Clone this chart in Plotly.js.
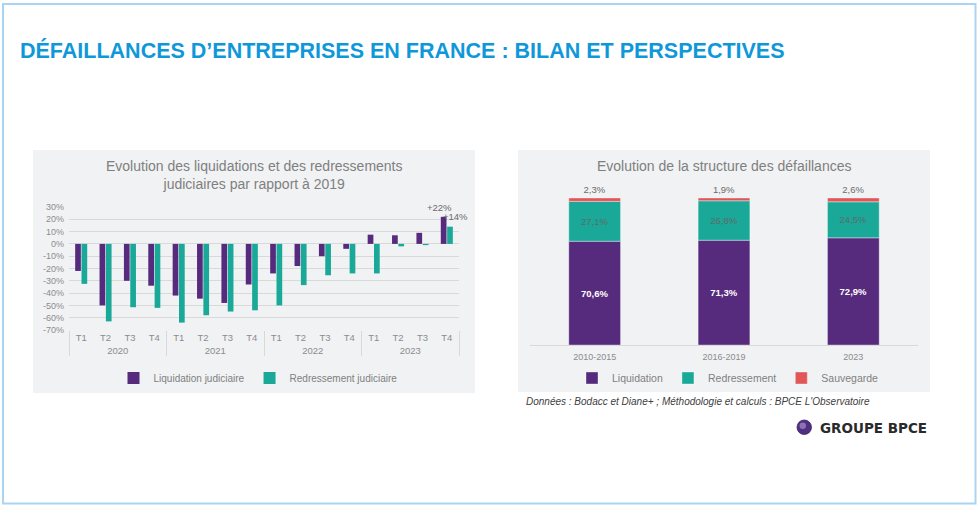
<!DOCTYPE html>
<html><head><meta charset="utf-8">
<script src="https://cdn.plot.ly/plotly-3.0.1.min.js"></script>
<style>html,body{margin:0;padding:0;background:#fff;overflow:hidden;}#chart{width:979px;height:508px;}</style>
</head><body><div id="chart"></div>
<script>
// ---- Left chart data (variation vs 2019, %) ----
const years = ['2020', '2021', '2022', '2023'];
const quarters = ['T1', 'T2', 'T3', 'T4'];
const liquidationJudiciaire = [-22, -50, -30, -34, -42, -44.5, -48, -33, -24, -18, -10, -4, 7.5, 7, 9, 22];
const redressementJudiciaire = [-32.5, -63, -51.5, -52, -64, -58, -55, -54, -50, -33.5, -25.5, -24, -24, -2, -1, 14];
const liquidationEndLabel = '+22%';
const redressementEndLabel = '+14%';
const yTickValues = [-70, -60, -50, -40, -30, -20, -10, 0, 10, 20, 30];

// ---- Right chart data (structure, %) ----
const periods = ['2010-2015', '2016-2019', '2023'];
const liquidation = [70.6, 71.3, 72.9];
const redressement = [27.1, 26.8, 24.5];
const sauvegarde = [2.3, 1.9, 2.6];

const FONT = 'Liberation Sans, Arial, Helvetica, sans-serif';
const C_LIQ = '#562a7c', C_RED = '#1aa898', C_SAU = '#e15759';
const W = 979, H = 508;
const px = v => v / W, py = v => 1 - v / H;
const fmt = v => v.toFixed(1).replace('.', ',') + '%';

const xMulti = [
  years.flatMap(y => quarters.map(() => y)),
  years.flatMap(() => quarters)
];
const nCat = liquidationJudiciaire.length;
const lastIdx = nCat - 1;
const xDom = [px(69), px(459)];
// paper position of a category centre on the multicategory axis
const catPaper = i => xDom[0] + (i + 0.5) / nCat * (xDom[1] - xDom[0]);

const baseRed = liquidation.map(v => v);
const baseSau = liquidation.map((v, i) => v + redressement[i]);

const traces = [
  {type: 'bar', name: 'Liquidation judiciaire', x: xMulti, y: liquidationJudiciaire,
   marker: {color: C_LIQ}, xaxis: 'x', yaxis: 'y', legend: 'legend', hoverinfo: 'y'},
  {type: 'bar', name: 'Redressement judiciaire', x: xMulti, y: redressementJudiciaire,
   marker: {color: C_RED}, xaxis: 'x', yaxis: 'y', legend: 'legend', hoverinfo: 'y'},

  {type: 'bar', name: 'Liquidation', x: periods, y: liquidation, base: periods.map(() => 0),
   offsetgroup: 's', width: 0.4,
   marker: {color: C_LIQ, line: {color: 'rgba(255,255,255,0.45)', width: 0.8}},
   xaxis: 'x2', yaxis: 'y2', legend: 'legend2',
   text: liquidation.map(fmt), textposition: 'inside', insidetextanchor: 'middle',
   constraintext: 'none',
   textfont: {size: 9.5, color: '#ffffff', family: FONT, weight: 'bold'}},
  {type: 'bar', name: 'Redressement', x: periods, y: redressement, base: baseRed,
   offsetgroup: 's', width: 0.4,
   marker: {color: C_RED, line: {color: 'rgba(255,255,255,0.45)', width: 0.8}},
   xaxis: 'x2', yaxis: 'y2', legend: 'legend2',
   text: redressement.map(fmt), textposition: 'inside', insidetextanchor: 'middle',
   constraintext: 'none',
   textfont: {size: 9.5, color: '#5f6b68', family: FONT}},
  {type: 'bar', name: 'Sauvegarde', x: periods, y: sauvegarde, base: baseSau,
   offsetgroup: 's', width: 0.4,
   marker: {color: C_SAU, line: {color: 'rgba(255,255,255,0.45)', width: 0.8}},
   xaxis: 'x2', yaxis: 'y2', legend: 'legend2',
   text: sauvegarde.map(fmt), textposition: 'outside', cliponaxis: false,
   constraintext: 'none',
   textfont: {size: 9.5, color: '#6b6b6b', family: FONT}}
];

const layout = {
  width: W, height: H,
  margin: {l: 0, r: 0, t: 0, b: 0},
  paper_bgcolor: '#ffffff', plot_bgcolor: 'rgba(0,0,0,0)',
  font: {family: FONT, color: '#7f7f7f'},
  barmode: 'group', bargap: 0.48, bargroupgap: 0.1,
  showlegend: true,
  xaxis: {
    type: 'multicategory', domain: xDom, anchor: 'y',
    showgrid: false, zeroline: false, showline: false, ticks: '',
    tickfont: {size: 9.5, color: '#8c8c8c'},
    showdividers: true, dividercolor: '#d9d9d9', dividerwidth: 1
  },
  yaxis: {
    domain: [py(330), py(207)], anchor: 'x', range: [-70, 30],
    tickvals: yTickValues, ticktext: yTickValues.map(v => v + '%'),
    gridcolor: '#d9d9d9', gridwidth: 1, zeroline: true, zerolinecolor: '#d9d9d9', zerolinewidth: 1,
    showline: false, ticks: '', ticklabelstandoff: 4,
    tickfont: {size: 9, color: '#8c8c8c'}
  },
  xaxis2: {
    type: 'category', domain: [px(530), px(918)], anchor: 'y2',
    showgrid: false, zeroline: false, showline: true, linecolor: '#d9d9d9', linewidth: 1,
    ticks: '', ticklabelstandoff: 3, tickfont: {size: 9, color: '#8c8c8c'}
  },
  yaxis2: {
    domain: [py(345), py(198)], anchor: 'x2', range: [0, 100],
    visible: false, showgrid: false, zeroline: false
  },
  legend: {
    orientation: 'h', x: px(258), xanchor: 'center', y: py(378), yanchor: 'middle',
    bgcolor: 'rgba(0,0,0,0)', font: {size: 10, color: '#7f7f7f'},
    itemwidth: 30, tracegroupgap: 0, traceorder: 'normal'
  },
  legend2: {
    orientation: 'h', x: px(728), xanchor: 'center', y: py(378), yanchor: 'middle',
    bgcolor: 'rgba(0,0,0,0)', font: {size: 10.5, color: '#7f7f7f'},
    itemwidth: 30, tracegroupgap: 0, traceorder: 'normal'
  },
  shapes: [
    {type: 'rect', xref: 'paper', yref: 'paper', x0: px(3), x1: px(975.5), y0: py(503.5), y1: py(4),
     line: {color: '#a9d5f2', width: 2}, fillcolor: 'rgba(0,0,0,0)', layer: 'below'},
    {type: 'rect', xref: 'paper', yref: 'paper', x0: px(33), x1: px(475), y0: py(393), y1: py(150),
     line: {width: 0}, fillcolor: '#f1f2f4', layer: 'below'},
    {type: 'rect', xref: 'paper', yref: 'paper', x0: px(518), x1: px(930), y0: py(392), y1: py(150),
     line: {width: 0}, fillcolor: '#f1f2f4', layer: 'below'},
    {type: 'circle', xref: 'paper', yref: 'paper', x0: px(797), x1: px(811.5), y0: py(434.5), y1: py(420),
     line: {color: '#3d2266', width: 0.8}, fillcolor: '#4f2f82'},
    {type: 'circle', xref: 'paper', yref: 'paper', x0: px(799.5), x1: px(806), y0: py(429), y1: py(422.5),
     line: {width: 0}, fillcolor: 'rgba(190,170,225,0.55)'}
  ],
  annotations: [
    {xref: 'paper', yref: 'y', x: catPaper(lastIdx), y: liquidationJudiciaire[lastIdx], xshift: -7, yshift: 2,
     xanchor: 'center', yanchor: 'bottom', text: liquidationEndLabel, showarrow: false,
     font: {family: FONT, size: 9.5, color: '#6b6b6b'}},
    {xref: 'paper', yref: 'y', x: catPaper(lastIdx), y: redressementJudiciaire[lastIdx], xshift: 9, yshift: 3,
     xanchor: 'center', yanchor: 'bottom', text: redressementEndLabel, showarrow: false,
     font: {family: FONT, size: 9.5, color: '#6b6b6b'}},
    {xref: 'paper', yref: 'paper', x: px(18), y: py(50), xanchor: 'left', yanchor: 'middle',
     text: 'DÉFAILLANCES D’ENTREPRISES EN FRANCE : BILAN ET PERSPECTIVES', showarrow: false,
     font: {family: FONT, size: 21.5, color: '#0f98d9', weight: 'bold'}},
    {xref: 'paper', yref: 'paper', x: px(254), y: py(174.5), xanchor: 'center', yanchor: 'middle',
     text: 'Evolution des liquidations et des redressements<br>judiciaires par rapport à 2019', showarrow: false,
     font: {family: FONT, size: 14, color: '#7f7f7f'}},
    {xref: 'paper', yref: 'paper', x: px(724), y: py(166), xanchor: 'center', yanchor: 'middle',
     text: 'Evolution de la structure des défaillances', showarrow: false,
     font: {family: FONT, size: 14, color: '#7f7f7f'}},
    {xref: 'paper', yref: 'paper', x: px(524), y: py(401.5), xanchor: 'left', yanchor: 'middle',
     text: '<i>Données : Bodacc et Diane+ ; Méthodologie et calculs : BPCE L\'Observatoire</i>', showarrow: false,
     font: {family: FONT, size: 10, color: '#404040'}},
    {xref: 'paper', yref: 'paper', x: px(818), y: py(427.5), xanchor: 'left', yanchor: 'middle',
     text: 'GROUPE BPCE', showarrow: false,
     font: {family: 'DejaVu Sans, sans-serif', size: 13.5, color: '#2a2a2a', weight: 'bold'}}
  ]
};

Plotly.newPlot('chart', traces, layout, {displayModeBar: false, staticPlot: true});
</script>
</body></html>
